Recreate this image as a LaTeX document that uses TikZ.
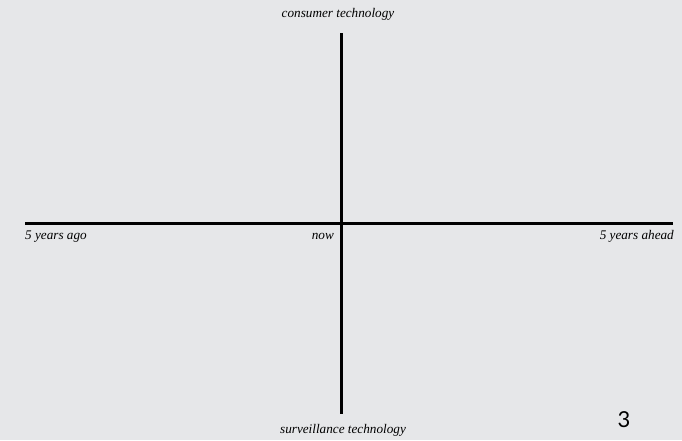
\documentclass[tikz,border=0pt]{standalone}
\usepackage{fontspec}
\setmainfont{Liberation Serif}
\newfontfamily\pagefont{Lato}
\usetikzlibrary{positioning}
\definecolor{paper}{RGB}{230,231,233}

\begin{document}
\begin{tikzpicture}[x=1pt, y=-1pt,
  every node/.style={font=\itshape\fontsize{13.2}{15}\selectfont, inner sep=0pt},
  axis/.style={line width=3pt, black}]

  \fill[paper] (0,0) rectangle (682,440);
  \coordinate (west) at (25,223);
  \coordinate (east) at (673,223);
  \coordinate (north) at (341,33);
  \coordinate (south) at (341,414);
  \draw[axis] (west) -- (east);
  \draw[axis] (north) -- (south);

  \node[anchor=base] (consumer) at (338,17) {consumer technology};
  \node[anchor=base] (surveil) at (343,433) {surveillance technology};
  \node[anchor=base west] (ago) at (25,239) {5 years ago};
  \node[anchor=base east] (now) at (334,239) {now};
  \node[anchor=base east] (ahead) at (674,239) {5 years ahead};
  \node[anchor=base, font=\pagefont\fontsize{22}{24}\selectfont] (page) at (624,427) {3};
\end{tikzpicture}
\end{document}
